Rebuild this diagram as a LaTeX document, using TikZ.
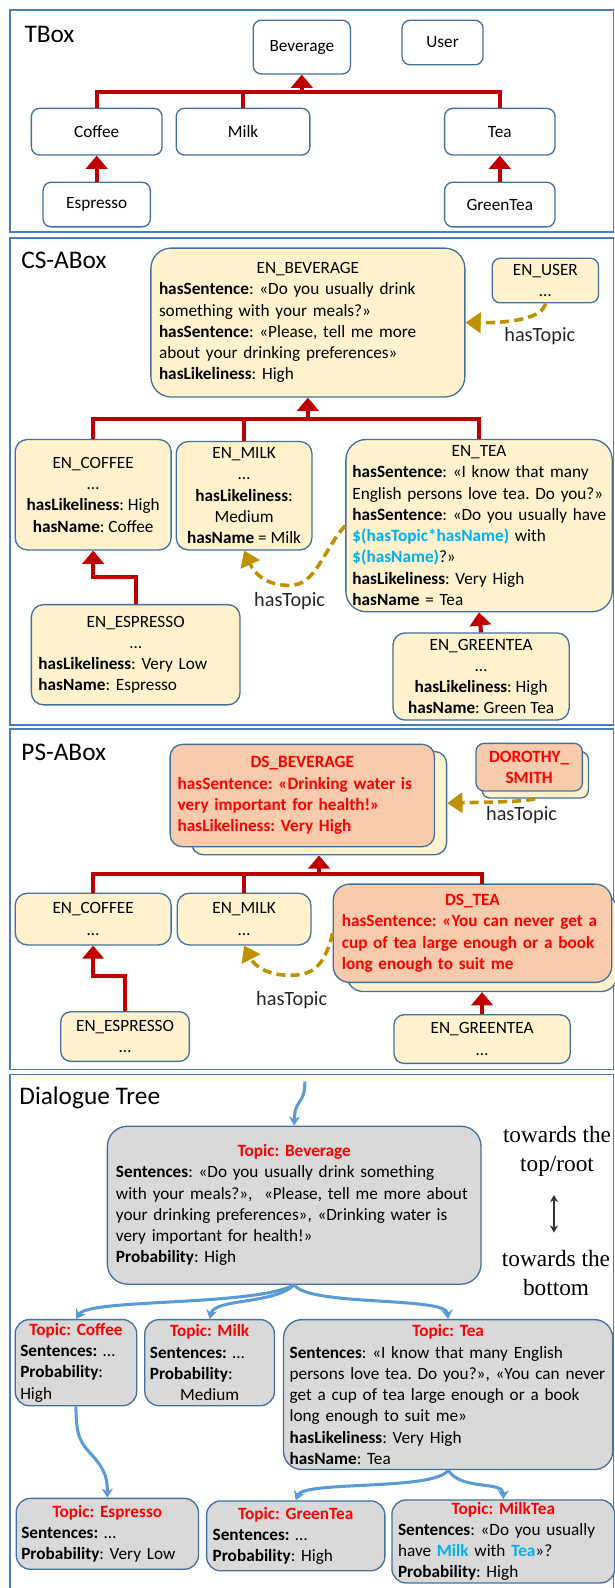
\documentclass[tikz,border=0pt]{standalone}
\usepackage{fontspec}
\setmainfont{Carlito}
\newfontfamily\timesf{Liberation Serif}
\usetikzlibrary{arrows.meta}
\frenchspacing
\definecolor{frameblue}{HTML}{4A7EBB}
\definecolor{boxblue}{HTML}{41719C}
\definecolor{creamc}{HTML}{FFF2CC}
\definecolor{salmonc}{HTML}{F8CBAD}
\definecolor{darkredc}{HTML}{C00000}
\definecolor{goldc}{HTML}{BF9000}
\definecolor{arrowbluec}{HTML}{5B9BD5}
\definecolor{lightbluec}{HTML}{00B0F0}
\definecolor{greyc}{HTML}{D9D9D9}
\tikzset{
 sect/.style={draw=frameblue, line width=1.5pt},
 secttitle/.style={anchor=west, font=\fontsize{25}{30}\selectfont, inner sep=0pt},
 basebox/.style={draw=boxblue, line width=1.3pt, rounded corners=8pt, font=\fontsize{17}{21}\selectfont\frenchspacing, inner sep=0pt, align=center},
 tbox/.style={basebox, fill=white},
 creambox/.style={basebox, fill=creamc, rounded corners=12pt},
 salmonbox/.style={basebox, fill=salmonc, text=red, font=\fontsize{17}{21}\selectfont\bfseries\frenchspacing, rounded corners=12pt},
 greybox/.style={basebox, fill=greyc, rounded corners=14pt},
 isa/.style={draw=darkredc, line width=4pt, -{Triangle[width=21pt,length=13pt]}},
 isaline/.style={draw=darkredc, line width=4pt},
 topicarrow/.style={draw=goldc, line width=3.5pt, dash pattern=on 9pt off 5pt, -{Triangle[width=20pt,length=15pt]}},
 treearrow/.style={draw=arrowbluec, line width=3pt, -{Stealth[width=11pt,length=9pt]}},
 lbl/.style={font=\fontsize{20}{24}\selectfont, inner sep=0pt, text=black!85},
 sidetext/.style={font=\timesf\fontsize{23}{28}\selectfont, align=center, inner sep=0pt},
}
\newcommand\topic[1]{{\centering\textcolor{red}{\textbf{#1}}\par}}
\begin{document}
\begin{tikzpicture}[x=1pt,y=-1pt]
\useasboundingbox[fill=white] (0,0) rectangle (607,1568);
% ---------------- TBox
\draw[sect] (10,10) rectangle (606,229);
\node[secttitle] (tboxlbl) at (24,34) {TBox};
\node[tbox, minimum width=96pt, minimum height=53pt] (bev) at (298,46.5) {Beverage};
\node[tbox, minimum width=80pt, minimum height=44pt] (user) at (437,42) {User};
\node[tbox, minimum width=129pt, minimum height=46pt] (coffee) at (95.5,130) {Coffee};
\node[tbox, minimum width=132pt, minimum height=46pt] (milk) at (240,130) {Milk};
\node[tbox, minimum width=109pt, minimum height=46pt] (tea) at (493.5,130) {Tea};
\node[tbox, minimum width=106pt, minimum height=44pt] (espresso) at (95.5,202) {Espresso};
\node[tbox, minimum width=109pt, minimum height=44pt] (greentea) at (493.5,202) {GreenTea};
\coordinate (tjoin) at (298,90.5);
\draw[isaline] (coffee.north) |- (tea.north |- tjoin) -- (tea.north);
\draw[isaline] (milk.north) -- (milk.north |- tjoin);
\draw[isa] (tjoin) -- (bev.south);
\draw[isa] (espresso.north) -- (coffee.south);
\draw[isa] (greentea.north) -- (tea.south);
% ---------------- CS-ABox
\draw[sect] (10,235) rectangle (606,716);
\node[secttitle] (cslbl) at (21,257) {CS-ABox};
\node[creambox, rounded corners=20pt, minimum width=310pt, minimum height=147pt, text width=294pt, align=left] (enbev) at (304,318.5)
 {{\centering EN\_BEVERAGE\par}\textbf{hasSentence}: «Do you usually drink\\something with your meals?»\\\textbf{hasSentence}: «Please, tell me more\\about your drinking preferences»\\\textbf{hasLikeliness}: High};
\node[creambox, rounded corners=8pt, minimum width=105pt, minimum height=44pt] (enuser) at (538.5,277) {EN\_USER\\…};
\node[creambox, minimum width=154pt, minimum height=109pt] (encoffee) at (92,488.5)
 {EN\_COFFEE\\…\\\textbf{hasLikeliness}: High\\\textbf{hasName}: Coffee};
\node[creambox, minimum width=134pt, minimum height=107pt] (enmilk) at (241,489.5)
 {EN\_MILK\\…\\\textbf{hasLikeliness}:\\Medium\\\textbf{hasName} = Milk};
\node[creambox, rounded corners=20pt, minimum width=263pt, minimum height=170pt, text width=250pt, align=left] (entea) at (473,519)
 {{\centering EN\_TEA\par}\mbox{\textbf{hasSentence}: «I know that many}\\\mbox{English persons love tea. Do you?»}\\\mbox{\textbf{hasSentence}: «Do you usually have}\\\mbox{\textcolor{lightbluec}{\textbf{\$(hasTopic*hasName)}} with}\\\textcolor{lightbluec}{\textbf{\$(hasName)}}?»\\\textbf{hasLikeliness}: Very High\\\textbf{hasName} = Tea};
\node[creambox, minimum width=206pt, minimum height=99pt, text width=192pt, align=left] (enesp) at (134,646.5)
 {{\centering EN\_ESPRESSO\\…\par}\textbf{hasLikeliness}: Very Low\\\textbf{hasName}: Espresso};
\node[creambox, minimum width=174pt, minimum height=86pt] (engreen) at (475,668)
 {EN\_GREENTEA\\…\\\textbf{hasLikeliness}: High\\\textbf{hasName}: Green Tea};
\coordinate (cjoin) at (304,414);
\draw[isaline] (encoffee.north) |- (entea.north |- cjoin) -- (entea.north);
\draw[isaline] (enmilk.north) -- (enmilk.north |- cjoin);
\draw[isa] (cjoin) -- (enbev.south);
\coordinate (cesp) at (92,570);
\draw[isa] (enesp.north) |- (cesp) -- (encoffee.south);
\draw[isa] (engreen.north) -- (entea.south);
\draw[topicarrow] (enuser.south) .. controls (536,314) and (505,319) .. (enbev.east);
\node[lbl] (ht1) at (533,332) {hasTopic};
\draw[topicarrow] (entea.west) .. controls (318,545) and (312,578) .. (286,578) .. controls (264,578) and (252,568) .. (enmilk.south);
\node[lbl] (ht2) at (286,594) {hasTopic};
% ---------------- PS-ABox
\draw[sect] (10,720) rectangle (606,1056);
\node[secttitle] (pslbl) at (21,743) {PS-ABox};
\node[creambox, minimum width=252pt, minimum height=102pt] (dsbevback) at (315,793) {};
\node[salmonbox, minimum width=261pt, minimum height=101pt, text width=246pt, align=left] (dsbev) at (298.5,785.5)
 {{\centering DS\_BEVERAGE\par}hasSentence: «Drinking water is\\very important for health!»\\hasLikeliness: Very High};
\node[creambox, rounded corners=8pt, minimum width=105pt, minimum height=46pt] (dsback) at (528.5,765) {};
\node[salmonbox, rounded corners=8pt, minimum width=105pt, minimum height=47pt] (dorothy) at (522.5,757.5) {DOROTHY\_\\SMITH};
\node[creambox, minimum width=154pt, minimum height=51pt] (pcoffee) at (92,907.5) {EN\_COFFEE\\…};
\node[creambox, minimum width=132pt, minimum height=51pt] (pmilk) at (241,907.5) {EN\_MILK\\…};
\node[creambox, rounded corners=16pt, minimum width=267pt, minimum height=96pt] (dsteaback) at (476,931) {};
\node[salmonbox, rounded corners=16pt, minimum width=275pt, minimum height=97pt, text width=258pt, align=left] (dstea) at (466.5,921.5)
 {{\centering DS\_TEA\par}hasSentence: «You can never get a\\cup of tea large enough or a book\\long enough to suit me};
\node[creambox, rounded corners=10pt, minimum width=127pt, minimum height=49pt] (pesp) at (123.5,1023.5) {EN\_ESPRESSO\\…};
\node[creambox, rounded corners=10pt, minimum width=174pt, minimum height=48pt] (pgreen) at (476,1026) {EN\_GREENTEA\\…};
\coordinate (pjoin) at (315,863);
\coordinate (ptea) at (476,873);
\draw[isaline] (pcoffee.north) |- (ptea |- pjoin) -- (ptea);
\draw[isaline] (pmilk.north) -- (pmilk.north |- pjoin);
\draw[isa] (pjoin) -- (dsbevback.south);
\coordinate (pesc) at (92,964);
\draw[isa] (pesp.north) |- (pesc) -- (pcoffee.south);
\draw[isa] (pgreen.north) -- (dsteaback.south);
\draw[topicarrow] (dsback.south) .. controls (515,792) and (480,792) .. (dsbevback.east);
\node[lbl] (ht3) at (515,805) {hasTopic};
\draw[topicarrow] (dstea.west) .. controls (320,958) and (305,963) .. (286,963) .. controls (266,963) and (252,955) .. (pmilk.south);
\node[lbl] (ht4) at (288,987) {hasTopic};
% ---------------- Dialogue Tree
\draw[sect] (10,1061) rectangle (606,1620);
\node[secttitle] (dtlbl) at (19,1084) {Dialogue Tree};
\node[greybox, rounded corners=20pt, minimum width=369pt, minimum height=156pt, text width=352pt, align=left] (dtbev) at (290.5,1190)
 {\topic{Topic: Beverage}\textbf{Sentences}: «Do you usually drink something\\with your meals?»,~ «Please, tell me more about\\your drinking preferences», «Drinking water is\\very important for health!»\\\textbf{Probability}: High};
\coordinate (dtin) at (301,1068);
\draw[treearrow] (dtin) .. controls (301,1092) and (291,1084) .. (dtbev.north);
\node[sidetext] (towtop) at (550,1137) {towards the\\top/root};
\node[sidetext] (towbot) at (549,1257) {towards the\\bottom};
\coordinate (updn1) at (547,1180);
\coordinate (updn2) at (547,1217);
\draw[black!80, line width=1.8pt, {Stealth[width=8pt,length=7pt]}-{Stealth[width=8pt,length=7pt]}] (updn1) -- (updn2);
\node[greybox, minimum width=120pt, minimum height=85pt, text width=110pt, align=left] (dtcoffee) at (75,1345.5)
 {\topic{Topic: Coffee}\textbf{Sentences:} …\\\textbf{Probability}:\\High};
\node[greybox, minimum width=128pt, minimum height=85pt, text width=118pt, align=left] (dtmilk) at (207,1345.5)
 {\topic{Topic: Milk}\textbf{Sentences:} …\\\textbf{Probability}:\par{\centering Medium\par}};
\node[greybox, rounded corners=18pt, minimum width=325pt, minimum height=148pt, text width=313pt, align=left] (dttea) at (442.5,1377)
 {\topic{Topic: Tea}\textbf{Sentences}: «I know that many English\\persons love tea. Do you?», «You can never\\get a cup of tea large enough or a book\\long enough to suit me»\\\textbf{hasLikeliness}: Very High\\\textbf{hasName}: Tea};
\node[greybox, minimum width=180pt, minimum height=70pt, text width=170pt, align=left] (dtesp) at (106,1514.5)
 {\topic{Topic: Espresso}\textbf{Sentences:} …\\\textbf{Probability}: Very Low};
\node[greybox, minimum width=176pt, minimum height=69pt, text width=164pt, align=left] (dtgreen) at (292,1516.5)
 {\topic{Topic: GreenTea}\textbf{Sentences:} …\\\textbf{Probability}: High};
\node[greybox, minimum width=220pt, minimum height=82pt, text width=208pt, align=left] (dtmilktea) at (497,1522)
 {\topic{Topic: MilkTea}\textbf{Sentences}: «Do you usually\\have \textcolor{lightbluec}{\textbf{Milk}} with \textcolor{lightbluec}{\textbf{Tea}}»?\\\textbf{Probability}: High};
\draw[treearrow] (dtbev.south) .. controls (250,1290) and (88,1282) .. (dtcoffee.north);
\draw[treearrow] (dtbev.south) .. controls (270,1288) and (212,1282) .. (dtmilk.north);
\draw[treearrow] (dtbev.south) .. controls (305,1290) and (440,1280) .. (dttea.north);
\draw[treearrow] (dtcoffee.south) .. controls (75,1420) and (80,1425) .. (92,1438) .. controls (104,1452) and (106,1460) .. (dtesp.north);
\draw[treearrow] (dttea.south) .. controls (430,1472) and (300,1462) .. (dtgreen.north);
\draw[treearrow] (dttea.south) .. controls (455,1472) and (497,1462) .. (dtmilktea.north);
\end{tikzpicture}
\end{document}
